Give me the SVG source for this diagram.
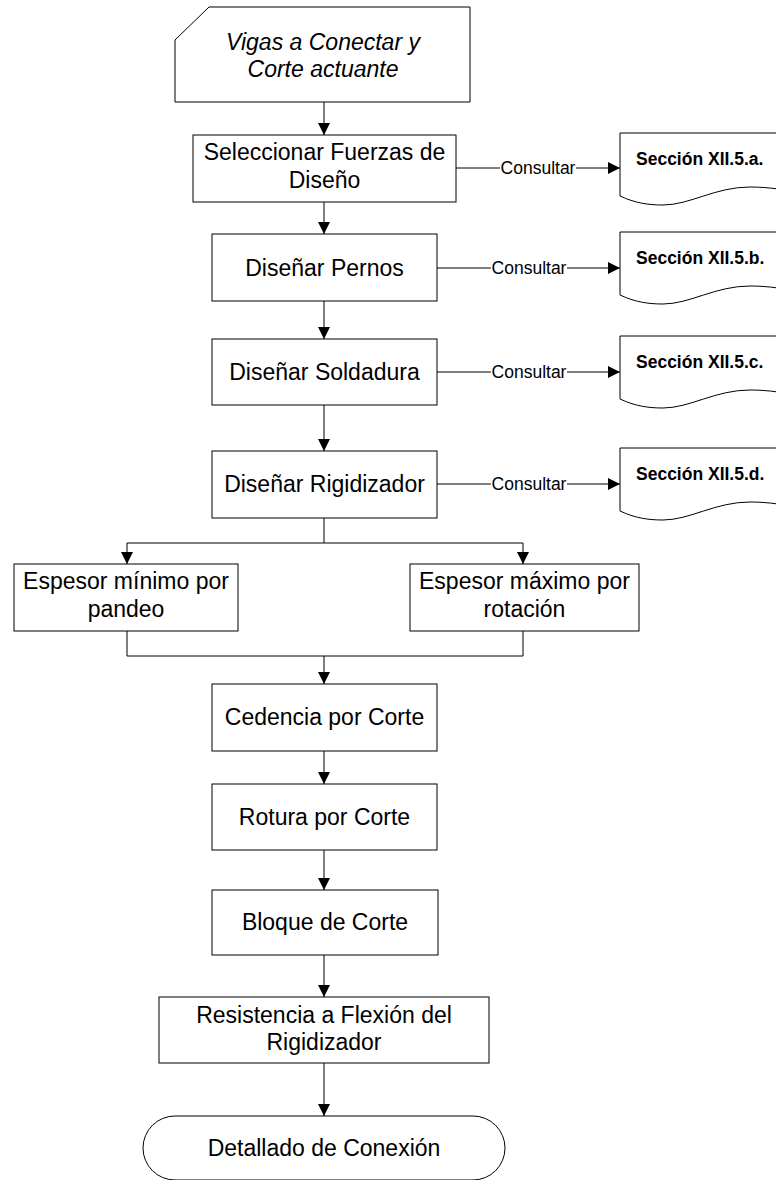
<svg xmlns="http://www.w3.org/2000/svg" width="776" height="1180" viewBox="0 0 776 1180">
  <defs>
    <style>
      .shape { fill: #ffffff; stroke: #000000; stroke-width: 1; }
      .wire { fill: none; stroke: #000000; stroke-width: 1; }
      .lbl { font-family: "Liberation Sans", Arial, sans-serif; font-size: 23px; fill: #000000; text-anchor: middle; }
      .it { font-style: italic; }
      .ref { font-family: "Liberation Sans", Arial, sans-serif; font-size: 17.5px; font-weight: bold; fill: #000000; }
      .con { font-family: "Liberation Sans", Arial, sans-serif; font-size: 17.5px; fill: #000000; text-anchor: middle; }
    </style>
    <marker id="arrow" markerUnits="userSpaceOnUse" markerWidth="12" markerHeight="12" refX="12" refY="6" orient="auto">
      <path d="M0,0 L12,6 L0,12 Z" fill="#000000"/>
    </marker>
  </defs>

  <!-- connectors -->
  <g id="connectors">
    <line class="wire" x1="324" y1="102" x2="324" y2="135" marker-end="url(#arrow)"/>
    <line class="wire" x1="324" y1="202" x2="324" y2="234" marker-end="url(#arrow)"/>
    <line class="wire" x1="324" y1="301" x2="324" y2="339" marker-end="url(#arrow)"/>
    <line class="wire" x1="324" y1="405" x2="324" y2="451" marker-end="url(#arrow)"/>
    <!-- split to the two thickness checks -->
    <polyline class="wire" points="324,518 324,543"/>
    <polyline class="wire" points="324,543 127,543 127,564" marker-end="url(#arrow)"/>
    <polyline class="wire" points="324,543 523,543 523,564" marker-end="url(#arrow)"/>
    <!-- merge -->
    <polyline class="wire" points="127,631 127,656 523,656 523,631"/>
    <line class="wire" x1="324" y1="656" x2="324" y2="684" marker-end="url(#arrow)"/>
    <line class="wire" x1="324" y1="751" x2="324" y2="784" marker-end="url(#arrow)"/>
    <line class="wire" x1="324" y1="850" x2="324" y2="890" marker-end="url(#arrow)"/>
    <line class="wire" x1="324" y1="955" x2="324" y2="997" marker-end="url(#arrow)"/>
    <line class="wire" x1="324" y1="1063" x2="324" y2="1116" marker-end="url(#arrow)"/>

    <!-- "Consultar" links -->
    <line class="wire" x1="456" y1="168" x2="500" y2="168"/>
    <line class="wire" x1="576" y1="168" x2="620" y2="168" marker-end="url(#arrow)"/>
    <text class="con" x="538" y="174">Consultar</text>

    <line class="wire" x1="437" y1="268" x2="491" y2="268"/>
    <line class="wire" x1="567" y1="268" x2="620" y2="268" marker-end="url(#arrow)"/>
    <text class="con" x="529" y="274">Consultar</text>

    <line class="wire" x1="437" y1="372" x2="491" y2="372"/>
    <line class="wire" x1="567" y1="372" x2="620" y2="372" marker-end="url(#arrow)"/>
    <text class="con" x="529" y="378">Consultar</text>

    <line class="wire" x1="437" y1="484" x2="491" y2="484"/>
    <line class="wire" x1="567" y1="484" x2="620" y2="484" marker-end="url(#arrow)"/>
    <text class="con" x="529" y="490">Consultar</text>
  </g>

  <!-- input -->
  <g id="n-input">
    <polygon class="shape" points="209,7 470,7 470,102 175,102 175,40"/>
    <text class="lbl it" x="323" y="50">Vigas a Conectar y</text>
    <text class="lbl it" x="323" y="77">Corte actuante</text>
  </g>

  <g id="n-fuerzas">
    <rect class="shape" x="193" y="135" width="263" height="67"/>
    <text class="lbl" x="324.5" y="160">Seleccionar Fuerzas de</text>
    <text class="lbl" x="324.5" y="188">Diseño</text>
  </g>

  <g id="n-pernos">
    <rect class="shape" x="212" y="234" width="225" height="67"/>
    <text class="lbl" x="324.5" y="276">Diseñar Pernos</text>
  </g>

  <g id="n-soldadura">
    <rect class="shape" x="212" y="339" width="225" height="66"/>
    <text class="lbl" x="324.5" y="380">Diseñar Soldadura</text>
  </g>

  <g id="n-rigidizador">
    <rect class="shape" x="212" y="451" width="225" height="67"/>
    <text class="lbl" x="324.5" y="492">Diseñar Rigidizador</text>
  </g>

  <!-- code references -->
  <g id="doc-a">
    <path class="shape" d="M620,133 H800 V193 C785,190 770,187 750,187 C715,187 690,205 663,205 C648,205 635,203 620,196 Z"/>
    <text class="ref" x="636" y="165">Sección XII.5.a.</text>
  </g>
  <g id="doc-b">
    <path class="shape" d="M620,232 H800 V292 C785,289 770,286 750,286 C715,286 690,304 663,304 C648,304 635,302 620,295 Z"/>
    <text class="ref" x="636" y="264">Sección XII.5.b.</text>
  </g>
  <g id="doc-c">
    <path class="shape" d="M620,336 H800 V396 C785,393 770,390 750,390 C715,390 690,408 663,408 C648,408 635,406 620,399 Z"/>
    <text class="ref" x="636" y="368">Sección XII.5.c.</text>
  </g>
  <g id="doc-d">
    <path class="shape" d="M620,448 H800 V508 C785,505 770,502 750,502 C715,502 690,520 663,520 C648,520 635,518 620,511 Z"/>
    <text class="ref" x="636" y="480">Sección XII.5.d.</text>
  </g>

  <g id="n-espesor-min">
    <rect class="shape" x="14" y="564" width="224" height="67"/>
    <text class="lbl" x="126" y="589">Espesor mínimo por</text>
    <text class="lbl" x="126" y="617">pandeo</text>
  </g>

  <g id="n-espesor-max">
    <rect class="shape" x="410" y="564" width="229" height="67"/>
    <text class="lbl" x="524.5" y="589">Espesor máximo por</text>
    <text class="lbl" x="524.5" y="617">rotación</text>
  </g>

  <g id="n-cedencia">
    <rect class="shape" x="212" y="684" width="225" height="67"/>
    <text class="lbl" x="324.5" y="725">Cedencia por Corte</text>
  </g>

  <g id="n-rotura">
    <rect class="shape" x="212" y="784" width="225" height="66"/>
    <text class="lbl" x="324.5" y="825">Rotura por Corte</text>
  </g>

  <g id="n-bloque">
    <rect class="shape" x="212" y="890" width="226" height="65"/>
    <text class="lbl" x="325" y="930">Bloque de Corte</text>
  </g>

  <g id="n-flexion">
    <rect class="shape" x="159" y="997" width="330" height="66"/>
    <text class="lbl" x="324" y="1023">Resistencia a Flexión del</text>
    <text class="lbl" x="324" y="1050">Rigidizador</text>
  </g>

  <!-- terminator -->
  <g id="n-detallado">
    <rect class="shape" x="143" y="1116" width="362" height="64" rx="32" ry="32"/>
    <text class="lbl" x="324" y="1156">Detallado de Conexión</text>
  </g>
</svg>
